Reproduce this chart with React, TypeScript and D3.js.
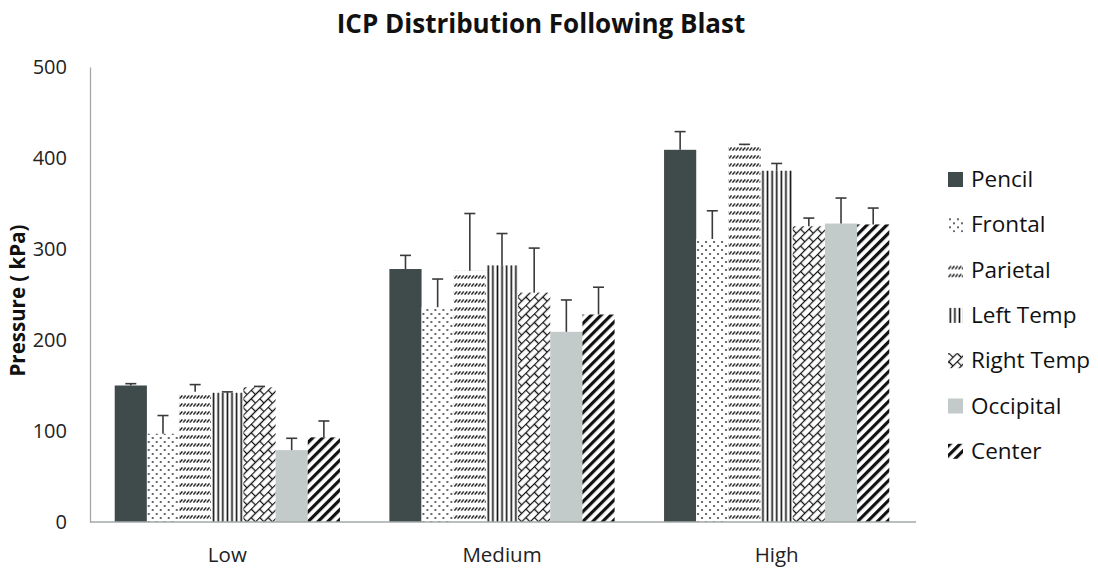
import React, { useRef, useEffect } from 'react';
import { select, scaleBand, scaleLinear, axisLeft } from 'd3';

const categories = ['Low', 'Medium', 'High'];
const seriesNames = ['Pencil', 'Frontal', 'Parietal', 'Left Temp', 'Right Temp', 'Occipital', 'Center'];

// mean per region, one array per load level
const lowMeans = [150, 97, 143, 142, 148, 79, 93];
const mediumMeans = [278, 236, 276, 282, 252, 209, 228];
const highMeans = [409, 311, 414, 386, 325, 328, 327];

// top of the (upper-only) error bar
const lowErrTop = [152, 117, 151, 143, 149, 92, 111];
const mediumErrTop = [293, 267, 339, 317, 301, 244, 258];
const highErrTop = [429, 342, 415, 394, 334, 356, 345];

const yTicks = [0, 100, 200, 300, 400, 500];

const fills = [
  '#3f4a4a',
  'url(#pat-frontal)',
  'url(#pat-parietal)',
  'url(#pat-left)',
  'url(#pat-right)',
  '#c3cbca',
  'url(#pat-center)',
];

const FONT = "'Open Sans', 'Noto Sans', sans-serif";

const App: React.FC = () => {
  const svgRef = useRef<SVGSVGElement>(null);

  useEffect(() => {
    const svg = select(svgRef.current);
    svg.selectAll('*').remove();

    const width = 1098;
    const height = 574;
    const margin = { left: 90, right: 182, top: 67, bottom: 52 };

    // patterns
    const defs = svg.append('defs');

    const pFront = defs
      .append('pattern')
      .attr('id', 'pat-frontal')
      .attr('patternUnits', 'userSpaceOnUse')
      .attr('width', 8)
      .attr('height', 8);
    pFront.append('rect').attr('width', 8).attr('height', 8).attr('fill', '#fff');
    pFront.append('circle').attr('cx', 2).attr('cy', 2).attr('r', 0.9).attr('fill', '#222');
    pFront.append('circle').attr('cx', 6).attr('cy', 6).attr('r', 0.9).attr('fill', '#222');

    const pPar = defs
      .append('pattern')
      .attr('id', 'pat-parietal')
      .attr('patternUnits', 'userSpaceOnUse')
      .attr('width', 3.4)
      .attr('height', 8);
    pPar.append('rect').attr('width', 3.4).attr('height', 8).attr('fill', '#fff');
    pPar
      .append('line')
      .attr('x1', 0.4)
      .attr('y1', 6.5)
      .attr('x2', 3)
      .attr('y2', 3.5)
      .attr('stroke', '#111')
      .attr('stroke-width', 1.3);

    const pLeft = defs
      .append('pattern')
      .attr('id', 'pat-left')
      .attr('patternUnits', 'userSpaceOnUse')
      .attr('width', 4.6)
      .attr('height', 10);
    pLeft.append('rect').attr('width', 4.6).attr('height', 10).attr('fill', '#fff');
    pLeft.append('rect').attr('x', 1.5).attr('width', 1.6).attr('height', 10).attr('fill', '#111');

    const pRight = defs
      .append('pattern')
      .attr('id', 'pat-right')
      .attr('patternUnits', 'userSpaceOnUse')
      .attr('width', 12)
      .attr('height', 12)
      .attr('patternTransform', 'rotate(-45)');
    pRight.append('rect').attr('width', 12).attr('height', 12).attr('fill', '#fff');
    const brick = pRight.append('g').attr('stroke', '#111').attr('stroke-width', 1.3).attr('fill', 'none');
    brick.append('line').attr('x1', 0).attr('y1', 0.5).attr('x2', 12).attr('y2', 0.5);
    brick.append('line').attr('x1', 0).attr('y1', 6.5).attr('x2', 12).attr('y2', 6.5);
    brick.append('line').attr('x1', 0.5).attr('y1', 0).attr('x2', 0.5).attr('y2', 6.5);
    brick.append('line').attr('x1', 6.5).attr('y1', 6.5).attr('x2', 6.5).attr('y2', 12);

    const pCenter = defs
      .append('pattern')
      .attr('id', 'pat-center')
      .attr('patternUnits', 'userSpaceOnUse')
      .attr('width', 7)
      .attr('height', 10)
      .attr('patternTransform', 'rotate(45)');
    pCenter.append('rect').attr('width', 7).attr('height', 10).attr('fill', '#fff');
    pCenter.append('rect').attr('width', 3.2).attr('height', 10).attr('fill', '#111');

    const means = [lowMeans, mediumMeans, highMeans];
    const errTops = [lowErrTop, mediumErrTop, highErrTop];

    const x0 = scaleBand<string>()
      .domain(categories)
      .range([margin.left, width - margin.right - 2])
      .paddingInner(0.18)
      .paddingOuter(0.09);
    const x1 = scaleBand<string>().domain(seriesNames).range([0, x0.bandwidth()]);
    const y = scaleLinear()
      .domain([0, 500])
      .range([height - margin.bottom, margin.top]);

    // title
    svg
      .append('text')
      .attr('x', 541)
      .attr('y', 33)
      .attr('text-anchor', 'middle')
      .attr('font-family', FONT)
      .attr('font-weight', 700)
      .attr('font-size', 26)
      .attr('fill', '#111')
      .text('ICP Distribution Following Blast');

    // y axis
    const yAxis = axisLeft(y).tickValues(yTicks).tickSize(0).tickPadding(23);
    const yg = svg.append('g').attr('transform', `translate(${margin.left},0)`).call(yAxis);
    yg.select('.domain').attr('stroke', '#a3a9a9').attr('stroke-width', 1.3);
    yg.selectAll('text')
      .attr('font-family', FONT)
      .attr('font-size', 20)
      .attr('fill', '#222');

    svg
      .append('text')
      .attr('transform', `translate(25,${(y(0) + y(500)) / 2 + 6}) rotate(-90)`)
      .attr('text-anchor', 'middle')
      .attr('font-family', FONT)
      .attr('font-weight', 700)
      .attr('font-size', 20.5)
      .attr('fill', '#111')
      .text('Pressure ( kPa)');

    // bars
    categories.forEach((cat, ci) => {
      const g = svg.append('g').attr('transform', `translate(${x0(cat)},0)`);
      g.selectAll('rect.bar')
        .data(seriesNames)
        .join('rect')
        .attr('class', 'bar')
        .attr('x', s => x1(s) ?? 0)
        .attr('width', x1.bandwidth())
        .attr('y', (_s, i) => y(means[ci][i]))
        .attr('height', (_s, i) => y(0) - y(means[ci][i]))
        .attr('fill', (_s, i) => fills[i]);

      const eb = g
        .selectAll('g.err')
        .data(seriesNames)
        .join('g')
        .attr('class', 'err')
        .attr('stroke', '#3a3a3a')
        .attr('stroke-width', 1.6);
      eb.append('line')
        .attr('x1', s => (x1(s) ?? 0) + x1.bandwidth() / 2)
        .attr('x2', s => (x1(s) ?? 0) + x1.bandwidth() / 2)
        .attr('y1', (_s, i) => y(means[ci][i]))
        .attr('y2', (_s, i) => y(errTops[ci][i]));
      eb.append('line')
        .attr('x1', s => (x1(s) ?? 0) + x1.bandwidth() / 2 - 5.5)
        .attr('x2', s => (x1(s) ?? 0) + x1.bandwidth() / 2 + 5.5)
        .attr('y1', (_s, i) => y(errTops[ci][i]))
        .attr('y2', (_s, i) => y(errTops[ci][i]));
    });

    // x baseline
    svg
      .append('line')
      .attr('x1', margin.left)
      .attr('x2', width - margin.right)
      .attr('y1', y(0))
      .attr('y2', y(0))
      .attr('stroke', '#a3a9a9')
      .attr('stroke-width', 1.3);

    svg
      .selectAll('text.xlab')
      .data(categories)
      .join('text')
      .attr('class', 'xlab')
      .attr('x', d => (x0(d) ?? 0) + x0.bandwidth() / 2)
      .attr('y', y(0) + 40)
      .attr('text-anchor', 'middle')
      .attr('font-family', FONT)
      .attr('font-size', 20.5)
      .attr('fill', '#222')
      .text(d => d);

    // legend
    const legend = svg
      .selectAll('g.leg')
      .data(seriesNames)
      .join('g')
      .attr('class', 'leg')
      .attr('transform', (_d, i) => `translate(948,${172 + i * 45.3})`);
    legend
      .append('rect')
      .attr('width', 15)
      .attr('height', 15)
      .attr('fill', (_d, i) => fills[i]);
    legend
      .append('text')
      .attr('x', 23)
      .attr('y', 15)
      .attr('font-family', FONT)
      .attr('font-size', 22.5)
      .attr('fill', '#111')
      .text(d => d);
  }, []);

  return (
    <div style={{ position: 'absolute', left: 0, top: 0 }}>
      <svg ref={svgRef} width={1098} height={574} style={{ display: 'block', background: '#fff' }} />
    </div>
  );
};

export default App;
